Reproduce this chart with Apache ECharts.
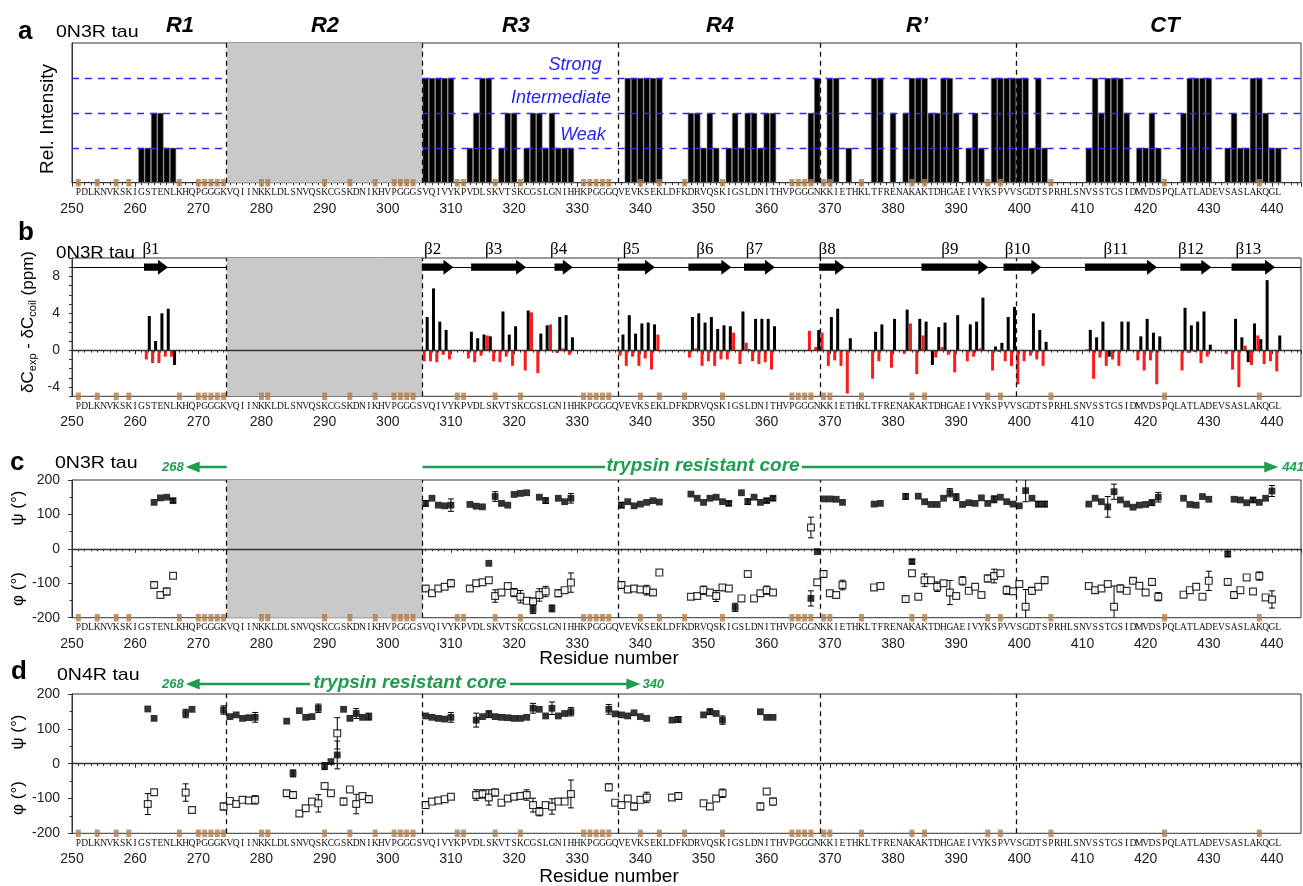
<!DOCTYPE html>
<html><head><meta charset="utf-8">
<script src="https://cdn.jsdelivr.net/npm/echarts@6/dist/echarts.min.js"></script>
<style>html,body{margin:0;padding:0;background:#fff}#c{width:1303px;height:886px}</style>
</head><body><div id="c"></div>
<script>
// ---------------- data ----------------
const SEQ = "PDLKNVKSKIGSTENLKHQPGGGKVQIINKKLDLSNVQSKCGSKDNIKHVPGGGSVQIVYKPVDLSKVTSKCGSLGNIHHKPGGGQVEVKSEKLDFKDRVQSKIGSLDNITHVPGGGNKKIETHKLTFRENAKAKTDHGAEIVYKSPVVSGDTSPRHLSNVSSTGSIDMVDSPQLATLADEVSASLAKQGL";
const SEQ_START = 251;
const X_MIN = 250, X_MAX = 444.6;
const xTickInterval = 10;
const boundaries = [274.5, 305.5, 336.5, 368.5, 399.5];
const greyRange = [274.5, 305.5];
const markedResidues = [251,254,257,259,267,270,271,272,273,274,280,281,290,294,298,301,302,303,304,311,312,317,321,331,332,333,334,335,340,343,347,353,364,365,366,367,369,370,375,383,385,395,397,405,423,438];

// panel a: relative intensity level (1 weak, 2 intermediate, 3 strong)
const intensity = [[261,1],[262,1],[263,2],[264,2],[265,1],[266,1],
[306,3],[307,3],[308,3],[309,3],[310,3],[313,1],[314,2],[315,3],[316,3],[318,1],[319,2],[320,2],
[322,1],[323,2],[324,2],[325,1],[326,2],[327,1],[328,1],[329,1],
[338,3],[339,3],[340,3],[341,3],[342,3],[343,3],[348,2],[349,2],[350,1],[351,2],[352,1],
[354,1],[355,2],[356,1],[357,2],[358,2],[359,1],[360,2],[361,2],[367,2],[368,3],
[370,3],[371,3],[373,1],[377,3],[378,3],[380,2],[382,2],[383,3],[384,3],[385,3],[386,2],[387,2],[388,3],[389,3],[390,2],
[392,1],[393,2],[394,1],[396,3],[397,3],[398,3],[399,3],[400,3],[401,3],[402,1],[403,3],[404,1],
[411,1],[412,3],[413,2],[414,3],[415,3],[416,3],[417,2],[419,1],[420,1],[421,2],[422,1],
[426,2],[427,3],[428,3],[429,3],[430,3],[433,1],[434,2],[435,1],[436,1],[437,3],[438,3],[439,2],[440,1],[441,1]];
const intensityLevels = [1, 2, 3];
const intensityNames = ['Weak', 'Intermediate', 'Strong'];

// panel b: secondary chemical shifts (ppm)
const shiftBlack = [[262,3.7],[263,1.0],[264,4.0],[265,4.5],[266,-1.6],
[306,3.6],[307,6.7],[308,3.1],[309,2.2],[313,2.0],[314,1.3],[315,1.7],[316,1.5],[318,4.2],[319,1.7],[320,2.6],[322,4.3],[324,1.8],[325,2.7],[327,3.6],[328,3.8],[329,1.4],
[337,1.7],[338,3.8],[339,1.8],[340,2.9],[341,3.0],[342,2.8],[343,-0.1],
[348,3.6],[349,4.0],[350,3.0],[351,3.6],[352,2.3],[353,2.7],[354,2.6],[356,4.2],[357,0.1],[358,3.4],[359,3.4],[360,3.4],[361,2.6],
[368,2.2],[370,3.6],[371,4.5],[373,1.3],
[377,2.0],[378,2.8],[380,3.4],[382,4.4],[384,3.4],[385,3.1],[386,-1.6],[387,2.5],[388,3.0],[390,3.8],[392,2.8],[393,3.1],[394,5.7],[396,0.4],[397,0.8],[398,3.6],[399,4.7],[402,4.0],[403,2.2],[404,0.9],
[411,2.2],[412,1.4],[413,3.1],[414,-0.7],[416,3.1],[417,3.1],[419,1.5],[420,3.4],[421,1.9],[422,1.5],
[426,4.6],[427,2.7],[428,3.1],[429,4.2],[430,0.6],[434,3.4],[435,1.4],[436,-1.3],[437,2.9],[438,1.2],[439,7.6],[441,1.6]];
const shiftRed = [[262,-1.0],[263,-1.4],[264,-1.4],[265,-0.7],[266,-0.7],
[306,-1.2],[307,-1.2],[308,-1.3],[309,-0.5],[310,-1.0],
[313,-0.9],[314,-1.3],[315,-0.6],[316,1.6],[317,-1.2],[318,-1.3],[319,-0.7],[320,-1.7],[322,-2.2],[323,4.1],[324,-2.5],[326,2.8],[327,-0.3],[328,0.2],[329,-0.5],
[337,-0.6],[338,-1.7],[339,-0.7],[340,-1.7],[341,-0.9],[342,-2.1],[343,1.7],
[348,-0.8],[349,0.2],[350,-1.7],[351,-1.2],[352,-1.7],[353,-1.0],[354,-1.0],[355,1.9],[356,-1.5],[357,0.8],[358,-1.2],[359,-1.5],[360,-1.3],[361,-2.1],
[367,2.1],[368,0.35],[369,1.9],[370,-1.7],[371,-1.1],[372,-1.7],[373,-4.7],
[377,-3.1],[378,-1.2],[380,-1.9],[382,-0.4],[383,2.9],[384,-2.6],[385,1.6],[387,-0.8],[388,0.35],[389,-0.5],[390,-2.4],[392,-1.2],[393,-0.7],[394,0.2],[396,-2.2],[397,-0.2],[398,-1.2],[399,-1.7],[400,-3.7],[401,-1.2],[402,-0.6],[403,-1.0],[404,-1.7],
[411,0.1],[412,-3.1],[413,-0.8],[414,-1.7],[415,-1.0],[416,-1.7],[419,-1.1],[420,-2.2],[421,-1.1],[422,-3.7],
[426,-2.2],[427,-0.3],[428,-0.2],[429,-1.4],[430,-0.7],[433,-0.4],[434,-2.1],[435,-4.0],[436,0.5],[437,-1.6],[438,1.6],[439,-1.5],[440,-1.2],[441,-2.3]];
const betaStrands = [['β1',261.4,265.2],['β2',305.4,310.4],['β3',313.2,321.9],['β4',326.4,329.3],['β5',336.4,342.3],['β6',347.6,354.4],['β7',356.4,361.3],['β8',368.3,372.4],['β9',384.5,395.1],['β10',397.5,403.5],['β11',410.4,421.8],['β12',425.5,430.4],['β13',433.6,440.5]];
const strandLevel = 9;

// panels c, d: [residue, angle, error]
const psiC = [[263,135,0],[264,148,0],[265,150,0],[266,140,6],
[306,132,8],[307,147,0],[308,127,0],[309,125,0],[310,127,18],[313,129,0],[314,124,0],[315,122,0],[316,-42,0],[317,152,14],[318,132,0],[319,127,0],[320,158,0],[321,161,0],[322,163,0],[323,-176,12],[324,150,0],[325,140,8],[326,-173,10],[327,147,0],[328,137,0],[329,147,14],
[337,127,8],[338,137,0],[339,125,0],[340,130,0],[341,135,0],[342,140,0],[343,136,0],
[348,159,0],[349,147,0],[350,135,0],[351,147,0],[352,150,0],[353,137,0],[354,132,6],[355,-170,12],[356,163,0],[357,137,8],[358,150,0],[359,135,0],[360,140,6],[361,147,6],
[367,-144,22],[368,-8,0],[369,145,0],[370,145,0],[371,144,0],[372,135,0],
[377,130,0],[378,132,0],[382,152,8],[383,-37,6],[384,153,0],[385,137,0],[386,129,0],[387,129,0],[388,147,0],[389,163,12],[390,150,10],[391,129,0],[392,134,0],[393,132,0],[394,148,0],[395,132,0],[396,144,10],[397,150,0],[398,137,0],[399,130,0],[400,125,0],[401,169,32],[402,147,0],[403,130,8],[404,130,8],
[411,130,0],[412,147,0],[413,137,0],[414,122,30],[415,166,22],[416,142,0],[417,130,0],[418,121,0],[419,127,0],[420,129,0],[421,134,8],[422,150,14],
[426,147,0],[427,129,0],[428,127,0],[429,152,0],[430,144,0],[433,-15,8],[434,144,0],[435,142,0],[436,134,0],[437,142,6],[438,135,0],[439,147,0],[440,168,16]];
const phiC = [[263,-105,8],[264,-134,0],[265,-124,10],[266,-78,0],
[306,-115,8],[307,-129,0],[308,-115,0],[309,-110,0],[310,-100,10],[313,-115,8],[314,-100,0],[315,-97,0],[316,-91,0],[317,-137,18],[318,-127,0],[319,-108,0],[320,-127,12],[321,-139,18],[322,-151,0],[323,-153,10],[324,-134,18],[325,-124,15],[327,-129,10],[328,-120,0],[329,-98,28],
[337,-105,10],[338,-118,0],[339,-115,0],[340,-118,0],[341,-120,14],[342,-127,8],[343,-69,0],
[348,-139,0],[349,-137,0],[350,-120,12],[351,-127,0],[352,-137,16],[353,-112,8],[354,-115,0],[356,-144,0],[357,-73,0],[358,-144,0],[359,-129,0],[360,-120,12],[361,-127,0],
[367,62,30],[368,-97,0],[369,-73,10],[370,-129,0],[371,-134,0],[372,-105,14],
[377,-112,0],[378,-108,0],[382,-146,8],[383,-71,0],[384,-139,0],[385,-91,18],[386,-91,0],[387,-110,14],[388,-100,0],[389,-127,35],[390,-137,0],[391,-93,12],[392,-122,0],[393,-110,0],[394,-134,0],[395,-86,10],[396,-79,20],[397,-71,0],[398,-120,12],[399,-123,0],[400,-102,0],[401,-168,50],[402,-122,10],[403,-110,0],[404,-91,10],
[411,-108,0],[412,-120,8],[413,-115,0],[414,-102,0],[415,-168,60],[416,-115,10],[417,-122,0],[418,-93,8],[419,-107,0],[420,-127,0],[421,-96,10],[422,-139,12],
[426,-133,0],[427,-120,0],[428,-110,0],[429,-139,0],[430,-93,28],[433,-96,8],[434,-134,10],[435,-120,0],[436,-83,0],[437,-124,0],[438,-79,12],[439,-141,0],[440,-147,25]];
const psiD = [[262,157,0],[263,130,0],[268,144,12],[269,156,0],[274,154,12],[275,135,0],[276,140,0],[277,130,0],[278,132,0],[279,133,14],
[284,122,0],[285,-28,10],[286,152,0],[287,133,0],[288,135,0],[289,159,12],[290,-7,10],[291,6,0],[292,25,40],[293,156,0],[294,130,0],[295,144,14],[296,133,0],[297,135,10],
[306,137,0],[307,133,0],[308,130,0],[309,128,0],[310,133,14],[314,125,20],[315,135,0],[316,142,10],[317,135,0],[318,133,0],[319,132,0],[320,130,0],[321,130,0],[322,133,0],[323,159,14],[324,156,0],[325,137,0],[326,159,18],[327,137,0],[328,144,0],[329,149,12],
[335,156,14],[336,143,0],[337,140,0],[338,137,0],[339,146,0],[340,135,0],[341,130,0],[345,125,0],[346,127,8],[350,140,0],[351,149,8],[352,144,0],[353,125,12],[359,149,0],[360,133,0],[361,133,0]];
const phiD = [[262,-116,30],[263,-82,0],[268,-83,25],[269,-133,0],[274,-123,10],[275,-107,0],[276,-116,0],[277,-104,0],[278,-106,0],[279,-104,12],
[284,-85,8],[285,-90,10],[286,-143,0],[287,-128,0],[288,-109,0],[289,-114,25],[290,-64,0],[291,-85,0],[292,87,45],[293,-109,10],[294,-74,0],[295,-116,28],[296,-93,0],[297,-102,10],
[306,-119,10],[307,-109,0],[308,-106,0],[309,-102,0],[310,-95,0],[314,-90,15],[315,-87,12],[316,-97,22],[317,-83,10],[318,-112,0],[319,-100,0],[320,-95,0],[321,-93,0],[322,-90,15],[323,-119,20],[324,-138,12],[325,-119,0],[326,-123,22],[327,-109,0],[328,-109,0],[329,-87,40],
[335,-68,10],[336,-112,0],[337,-119,0],[338,-100,0],[339,-123,10],[340,-104,0],[341,-97,15],[345,-97,0],[346,-93,10],[350,-114,0],[351,-123,0],[352,-100,0],[353,-85,12],[359,-123,10],[360,-80,0],[361,-109,10]];
const regionLabels = [['R1',180],['R2',325],['R3',516],['R4',720],['R’',917],['CT',1165]];
const coreArrowsC = {left:268, right:441};
const coreArrowsD = {left:268, right:340};

// ---------------- styling helpers ----------------
const FONT = '"Liberation Sans", Arial, sans-serif';
const SERIF = '"Liberation Serif", "Times New Roman", serif';
const GREEN = '#1f9d4c';
const BROWN = '#b07f4f';
const GREY = '#c9c9c9';
const chart = echarts.init(document.getElementById('c'), null, {renderer:'canvas'});

const gridDefs = [
  {top:43, height:139.7}, {top:258, height:138.3}, {top:480, height:137.7}, {top:694, height:139.3}
];
const grids = gridDefs.map(g => ({left:72, right:2, top:g.top, height:g.height, show:true, borderColor:'#333', borderWidth:1, backgroundColor:'transparent'}));

const xAxes = [];
for (let i = 0; i < 4; i++) {
  xAxes.push({type:'value', gridIndex:i, position:'bottom', min:X_MIN, max:X_MAX, interval:xTickInterval,
    axisLine:{lineStyle:{color:'#333', width:1}},
    axisTick:{length:4, lineStyle:{color:'#333'}},
    minorTick:{show:true, splitNumber:10, length:2.5, lineStyle:{color:'#333'}},
    splitLine:{show:false}, minorSplitLine:{show:false},
    axisLabel:{fontFamily:FONT, fontSize:14, color:'#222', margin:19, showMaxLabel:false}});
  xAxes.push({type:'value', gridIndex:i, position:'bottom', offset:0, min:X_MIN, max:X_MAX, interval:1,
    axisLine:{show:false}, axisTick:{show:false}, splitLine:{show:false},
    axisLabel:{fontFamily:SERIF, fontSize:9.5, color:'#111', margin:5, showMaxLabel:false, showMinLabel:true,
      formatter: v => { const k = Math.round(v) - SEQ_START; return (k >= 0 && k < SEQ.length) ? SEQ[k] : ''; }}});
}
const yBase = {axisLine:{show:true, lineStyle:{color:'#333'}}, splitLine:{show:false}};
const yAxes = [
  Object.assign({type:'value', gridIndex:0, min:0, max:4, axisTick:{show:false}, axisLabel:{show:false}}, yBase),
  Object.assign({type:'value', gridIndex:1, min:-5, max:10, interval:1, axisTick:{length:3, lineStyle:{color:'#333'}},
    axisLabel:{fontFamily:FONT, fontSize:14, color:'#222', margin:12, formatter: v => (v % 4 === 0 ? String(v) : '')}}, yBase),
  Object.assign({type:'value', gridIndex:2, min:-200, max:200, interval:100, axisTick:{length:4, lineStyle:{color:'#333'}},
    minorTick:{show:true, splitNumber:2, length:2.5, lineStyle:{color:'#333'}},
    axisLabel:{fontFamily:FONT, fontSize:14, color:'#222', margin:12}}, yBase),
  Object.assign({type:'value', gridIndex:3, min:-200, max:200, interval:100, axisTick:{length:4, lineStyle:{color:'#333'}},
    minorTick:{show:true, splitNumber:2, length:2.5, lineStyle:{color:'#333'}},
    axisLabel:{fontFamily:FONT, fontSize:14, color:'#222', margin:12}}, yBase)
];

const dashedV = {type:[5,4], color:'#111', width:1.3};
function vLines() { return boundaries.map(b => ({xAxis:b, lineStyle:dashedV})); }
function zeroLine() { return [{coord:[X_MIN,0], lineStyle:{color:'#333', width:1.3, type:'solid'}}, {coord:[X_MAX,0]}]; }
function greySeries(gi) {
  return {type:'line', xAxisIndex:gi*2, yAxisIndex:gi, data:[], z:1, silent:true,
    markArea:{silent:true, itemStyle:{color:GREY}, data:[[{xAxis:greyRange[0]},{xAxis:greyRange[1]}]]}};
}
function markerSeries(gi, yv) {
  return {type:'scatter', xAxisIndex:gi*2, yAxisIndex:gi, clip:false, z:6, silent:true,
    symbol:'rect', symbolSize:[5,7.5], itemStyle:{color:BROWN},
    data: markedResidues.map(r => [r, yv])};
}
function errRender(params, api) {
  const x = api.value(0), v = api.value(1), e = api.value(2);
  if (!e) return null;
  const t = api.coord([x, v + e]), b = api.coord([x, v - e]), w = 3;
  const st = {stroke:'#000', lineWidth:1};
  return {type:'group', children:[
    {type:'line', shape:{x1:t[0], y1:t[1], x2:b[0], y2:b[1]}, style:st},
    {type:'line', shape:{x1:t[0]-w, y1:t[1], x2:t[0]+w, y2:t[1]}, style:st},
    {type:'line', shape:{x1:b[0]-w, y1:b[1], x2:b[0]+w, y2:b[1]}, style:st}]};
}
function anglePanel(gi, psi, phi, withGrey) {
  const s = [];
  if (withGrey) s.push(greySeries(gi));
  s.push({type:'line', xAxisIndex:gi*2, yAxisIndex:gi, data:[], z:3, silent:true,
    markLine:{silent:true, symbol:['none','none'], label:{show:false}, data:[zeroLine()].concat(vLines())}});
  [psi, phi].forEach(arr => s.push({type:'custom', xAxisIndex:gi*2, yAxisIndex:gi, data:arr, encode:{x:0, y:1}, renderItem:errRender, z:4, clip:true, silent:true}));
  s.push({type:'scatter', name:'phi', xAxisIndex:gi*2, yAxisIndex:gi, data:phi, symbol:'rect', symbolSize:6.8, z:5, silent:true,
    itemStyle:{color:'#fff', borderColor:'#000', borderWidth:1.2}});
  s.push({type:'scatter', name:'psi', xAxisIndex:gi*2, yAxisIndex:gi, data:psi, symbol:'rect', symbolSize:6.8, z:5, silent:true,
    itemStyle:{color:'#000'}});
  s.push(markerSeries(gi, -200));
  return s;
}

const blueDash = {color:'#2b2bff', type:[7,6], width:1.3};
const series = [
  // panel a
  greySeries(0),
  {type:'bar', xAxisIndex:0, yAxisIndex:0, data:intensity, barWidth:6.3, z:2, silent:true,
    itemStyle:{color:'#000', borderColor:'#8a8a8a', borderWidth:0.6}},
  {type:'line', xAxisIndex:0, yAxisIndex:0, data:[], z:3, silent:true,
    markLine:{silent:true, symbol:['none','none'], label:{show:false},
      data: intensityLevels.flatMap(l => [
        [{coord:[X_MIN,l], lineStyle:blueDash},{coord:[greyRange[0],l]}],
        [{coord:[greyRange[1],l], lineStyle:blueDash},{coord:[X_MAX,l]}]]).concat(vLines())}},
  markerSeries(0, 0),
  // panel b
  greySeries(1),
  {type:'bar', xAxisIndex:2, yAxisIndex:1, data:shiftRed, barWidth:3, barGap:'0%', z:2, silent:true, itemStyle:{color:'#ff1a1a'}},
  {type:'bar', xAxisIndex:2, yAxisIndex:1, data:shiftBlack, barWidth:3, barGap:'0%', z:2, silent:true, itemStyle:{color:'#000'}},
  {type:'line', xAxisIndex:2, yAxisIndex:1, data:[], z:3, silent:true,
    markLine:{silent:true, symbol:['none','none'], label:{show:false},
      data:[zeroLine(),
        [{coord:[X_MIN,strandLevel], lineStyle:{color:'#000', width:1, type:'solid'}},{coord:[greyRange[0],strandLevel]}],
        [{coord:[greyRange[1],strandLevel], lineStyle:{color:'#000', width:1, type:'solid'}},{coord:[X_MAX,strandLevel]}]].concat(vLines())}},
  {type:'custom', xAxisIndex:2, yAxisIndex:1, data: betaStrands.map(b => [b[1], b[2], strandLevel]), encode:{x:[0,1], y:2}, clip:false, z:4, silent:true,
    renderItem:(params, api) => {
      const p0 = api.coord([api.value(0), api.value(2)]), p1 = api.coord([api.value(1), api.value(2)]);
      const H = 10, bh = 3.6, hh = 7.5, y = p0[1], x0 = p0[0], x1 = p1[0];
      return {type:'group', children:[
        {type:'polygon', shape:{points:[[x0,y-bh],[x1-H,y-bh],[x1-H,y-hh],[x1,y],[x1-H,y+hh],[x1-H,y+bh],[x0,y+bh]]}, style:{fill:'#000'}},
        {type:'text', x:(x0+x1-H)/2, y:y-18, style:{text:betaStrands[params.dataIndex][0], fontFamily:SERIF, fontSize:17, fill:'#000',
          align:'center', verticalAlign:'middle', textAlign:'center', textVerticalAlign:'middle'}}]};
    }},
  markerSeries(1, -5)
].concat(anglePanel(2, psiC, phiC, true), anglePanel(3, psiD, phiD, false));

function T(x, y, text, o) {
  const st = Object.assign({text, fontFamily:FONT, fontSize:18, fill:'#000', align:'left', verticalAlign:'middle', textAlign:'left', textVerticalAlign:'middle'}, o || {});
  if (o && o.align) st.textAlign = o.align;
  const el = {type:'text', x, y, style:st, silent:true};
  if (o && o.rot) { el.rotation = o.rot; delete st.rot; }
  if (o && o.sx) { el.scaleX = o.sx; delete st.sx; }
  return el;
}
const texts = [
  T(18, 32, 'a', {fontSize:26, fontWeight:'bold'}),
  T(56, 32, '0N3R tau', {fontSize:17, sx:1.15}),
  T(48, 119, 'Rel. Intensity', {fontSize:19, align:'center', rot:Math.PI/2}),
  T(575, 65, intensityNames[2], {fontSize:18, fontStyle:'italic', fill:'#2323f0', align:'center'}),
  T(561, 98, intensityNames[1], {fontSize:18, fontStyle:'italic', fill:'#2323f0', align:'center'}),
  T(583, 135, intensityNames[0], {fontSize:18, fontStyle:'italic', fill:'#2323f0', align:'center'}),
  T(18, 233, 'b', {fontSize:26, fontWeight:'bold'}),
  T(56, 253, '0N3R tau', {fontSize:17, sx:1.1}),
  {type:'text', x:28, y:322, rotation:Math.PI/2, silent:true, style:{
    text:'δC{s|exp} - δC{s|coil} (ppm)', rich:{s:{fontSize:11, fontFamily:FONT, padding:[9,0,0,0]}},
    fontFamily:FONT, fontSize:17, fill:'#000', align:'center', verticalAlign:'middle', textAlign:'center', textVerticalAlign:'middle'}},
  T(10, 463, 'c', {fontSize:26, fontWeight:'bold'}),
  T(55, 463, '0N3R tau', {fontSize:17, sx:1.15}),
  T(18, 508, 'ψ (°)', {fontSize:17, align:'center', rot:Math.PI/2}),
  T(18, 589, 'φ (°)', {fontSize:17, align:'center', rot:Math.PI/2}),
  T(609, 659, 'Residue number', {fontSize:19, align:'center'}),
  T(11, 672, 'd', {fontSize:26, fontWeight:'bold'}),
  T(57, 675, '0N4R tau', {fontSize:17, sx:1.15}),
  T(18, 732, 'ψ (°)', {fontSize:17, align:'center', rot:Math.PI/2}),
  T(18, 798, 'φ (°)', {fontSize:17, align:'center', rot:Math.PI/2}),
  T(609, 877, 'Residue number', {fontSize:19, align:'center'})
].concat(regionLabels.map(r => T(r[1], 26, r[0], {fontSize:22, fontWeight:'bold', fontStyle:'italic', align:'center'})));

chart.setOption({animation:false, grid:grids, xAxis:xAxes, yAxis:yAxes, series:series, graphic:texts});

// green trypsin-core annotations positioned from the residue scale
function gx(gi, r) { return chart.convertToPixel({xAxisIndex: gi*2}, r); }
function gLine(x1, x2, y) { return {type:'line', silent:true, shape:{x1, y1:y, x2, y2:y}, style:{stroke:GREEN, lineWidth:2.5}}; }
function gHead(tip, y, dir) { return {type:'polygon', silent:true, shape:{points:[[tip,y],[tip-dir*14,y-5.5],[tip-dir*14,y+5.5]]}, style:{fill:GREEN}}; }
const GT = {fontSize:19, fontWeight:'bold', fontStyle:'italic', fill:GREEN, align:'center'};
const GN = {fontSize:13, fontWeight:'bold', fontStyle:'italic', fill:GREEN};
const yc = 467, yd = 684;
const cL = gx(2, coreArrowsC.left), cR = gx(2, coreArrowsC.right), cB0 = gx(2, boundaries[0]), cB1 = gx(2, boundaries[1]);
const dL = gx(3, coreArrowsD.left), dR = gx(3, coreArrowsD.right);
const green = [
  gLine(cL + 13, cB0, yc), gHead(cL, yc, -1), T(cL - 2, yc, String(coreArrowsC.left), Object.assign({}, GN, {align:'right'})),
  gLine(cB1, 605, yc), T(703, yc - 1, 'trypsin resistant core', GT), gLine(802, cR - 13, yc), gHead(cR, yc, 1),
  T(cR + 4, yc, String(coreArrowsC.right), GN),
  gLine(dL + 13, 310, yd), gHead(dL, yd, -1), T(dL - 2, yd, String(coreArrowsD.left), Object.assign({}, GN, {align:'right'})),
  T(410, yd - 1, 'trypsin resistant core', GT), gLine(510, dR - 13, yd), gHead(dR, yd, 1),
  T(dR + 2, yd, String(coreArrowsD.right), GN)
];
chart.setOption({graphic: texts.concat(green)});
</script></body></html>
